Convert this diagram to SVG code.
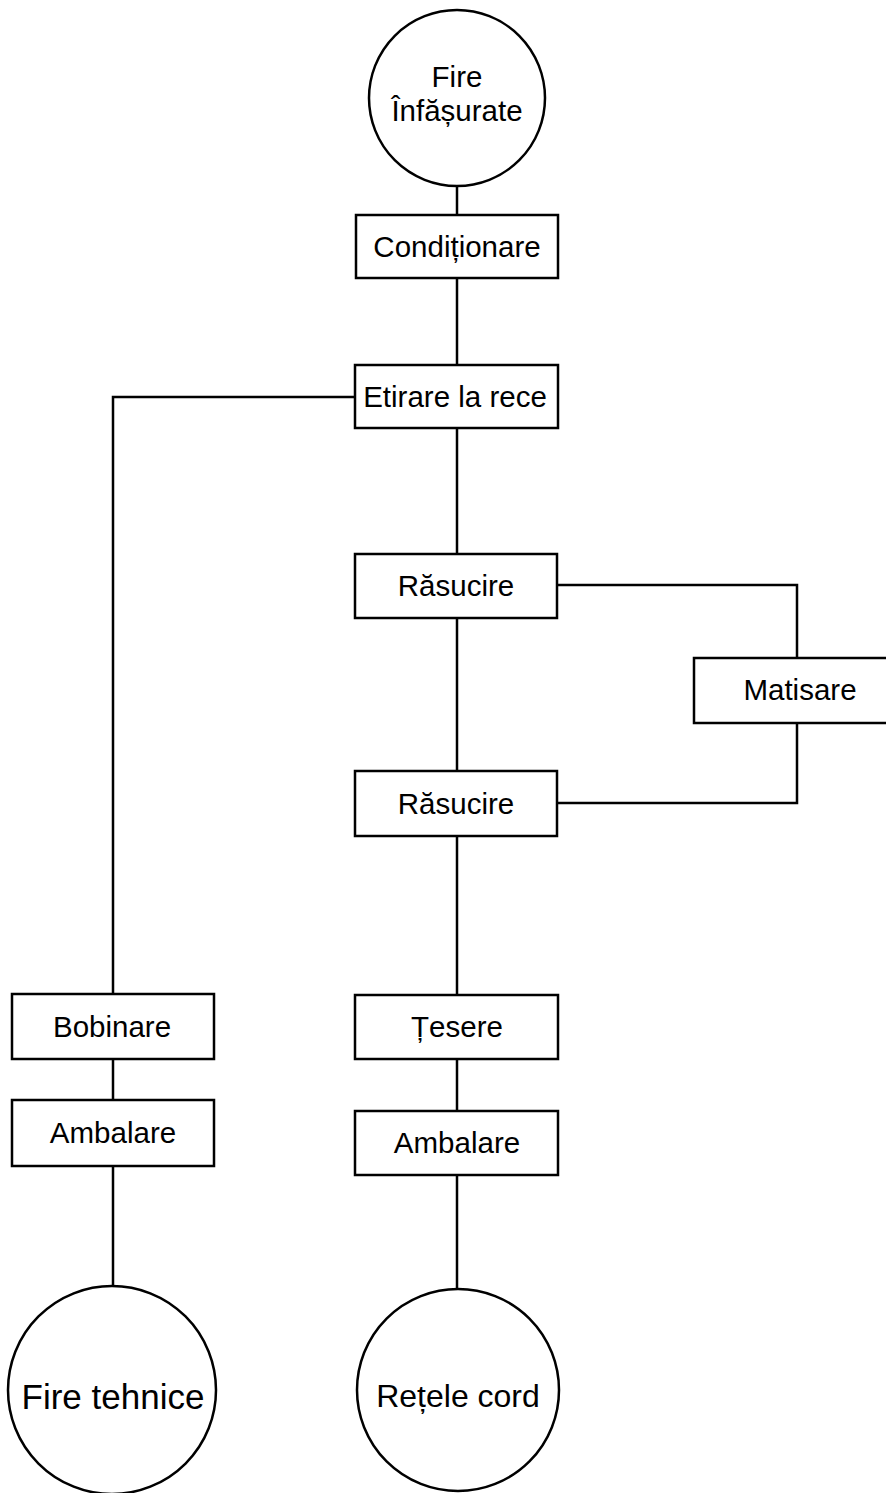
<svg xmlns="http://www.w3.org/2000/svg" width="886" height="1493" viewBox="0 0 886 1493">
<style>
.n{fill:#fff;stroke:#000;stroke-width:2.5}
.c{fill:none;stroke:#000;stroke-width:2.5}
.t{font-family:"Liberation Sans",Arial,sans-serif;font-size:29.5px;fill:#000;text-anchor:middle}
.tb{font-family:"Liberation Sans",Arial,sans-serif;font-size:35px;fill:#000;text-anchor:middle}
.tr{font-family:"Liberation Sans",Arial,sans-serif;font-size:32px;fill:#000;text-anchor:middle}
</style>
<rect width="886" height="1493" fill="#fff"/>
<g id="connectors">
<path class="c" d="M457,186V215"/>
<path class="c" d="M457,278V365"/>
<path class="c" d="M355,397H113V994"/>
<path class="c" d="M457,428V554"/>
<path class="c" d="M557,585H797V658"/>
<path class="c" d="M457,618V771"/>
<path class="c" d="M797,723V803H557"/>
<path class="c" d="M457,836V995"/>
<path class="c" d="M113,1059V1100"/>
<path class="c" d="M457,1059V1111"/>
<path class="c" d="M113,1166V1287"/>
<path class="c" d="M457,1175V1289"/>
</g>
<g id="fire-infasurate"><circle class="n" cx="457" cy="98" r="88"/><text class="t" x="457" y="87">Fire</text><text class="t" x="457" y="121">Înfășurate</text></g>
<g id="conditionare"><rect class="n" x="356" y="215" width="202" height="63"/><text class="t" x="457" y="257">Condiționare</text></g>
<g id="etirare"><rect class="n" x="355" y="365" width="203" height="63"/><text class="t" x="455" y="407">Etirare la rece</text></g>
<g id="rasucire1"><rect class="n" x="355" y="554" width="202" height="64"/><text class="t" x="456" y="596">Răsucire</text></g>
<g id="matisare"><rect class="n" x="694" y="658" width="194" height="65"/><text class="t" x="800" y="700">Matisare</text></g>
<g id="rasucire2"><rect class="n" x="355" y="771" width="202" height="65"/><text class="t" x="456" y="814">Răsucire</text></g>
<g id="bobinare"><rect class="n" x="12" y="994" width="202" height="65"/><text class="t" x="112" y="1037">Bobinare</text></g>
<g id="ambalare-left"><rect class="n" x="12" y="1100" width="202" height="66"/><text class="t" x="113" y="1143">Ambalare</text></g>
<g id="tesere"><rect class="n" x="355" y="995" width="203" height="64"/><text class="t" x="457" y="1037">Țesere</text></g>
<g id="ambalare-right"><rect class="n" x="355" y="1111" width="203" height="64"/><text class="t" x="457" y="1153">Ambalare</text></g>
<g id="fire-tehnice"><circle class="n" cx="112" cy="1390" r="104"/><text class="tb" x="113" y="1409">Fire tehnice</text></g>
<g id="retele-cord"><circle class="n" cx="458" cy="1390" r="101"/><text class="tr" x="458" y="1407">Rețele cord</text></g>
</svg>
